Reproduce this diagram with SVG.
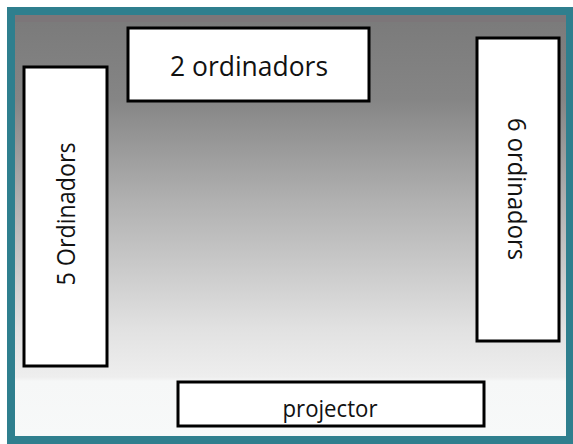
<svg xmlns="http://www.w3.org/2000/svg" width="573" height="444" viewBox="0 0 573 444">
<style>
.box{fill:#ffffff;stroke:#000000;stroke-width:3}
.lbl{font-family:"Open Sans","Noto Sans","DejaVu Sans",sans-serif;fill:#111111;text-anchor:middle}
</style>
<defs>
<linearGradient id="bg" x1="0" y1="0" x2="0" y2="1">
<stop offset="0" stop-color="#7a7a7a"/>
<stop offset="0.2" stop-color="#858585"/>
<stop offset="0.45" stop-color="#b2b2b2"/>
<stop offset="0.75" stop-color="#e2e2e2"/>
<stop offset="0.86" stop-color="#eeeeee"/>
<stop offset="0.87" stop-color="#f6f7f7"/>
<stop offset="1" stop-color="#f7f9f9"/>
</linearGradient>
</defs>
<rect x="0" y="0" width="573" height="444" fill="#ffffff"/>
<rect x="7" y="7" width="566" height="437" fill="#2f7f8e"/>
<rect x="15" y="15" width="551" height="421" fill="url(#bg)"/>
<rect x="15" y="15" width="551" height="7" fill="#7d7579" opacity="0.8"/>
<g id="node-2-ordinadors">
<rect class="box" x="128" y="28" width="241" height="73"/>
<text class="lbl" x="249" y="76" font-size="27" textLength="158" lengthAdjust="spacingAndGlyphs">2 ordinadors</text>
</g>
<g id="node-5-ordinadors">
<rect class="box" x="24" y="67" width="83" height="299"/>
<text class="lbl" transform="translate(75,214) rotate(-90)" x="0" y="0" font-size="25" textLength="143" lengthAdjust="spacingAndGlyphs">5 Ordinadors</text>
</g>
<g id="node-6-ordinadors">
<rect class="box" x="477" y="38" width="82" height="303"/>
<text class="lbl" transform="translate(508,189) rotate(90)" x="0" y="0" font-size="25" textLength="142" lengthAdjust="spacingAndGlyphs">6 ordinadors</text>
</g>
<g id="node-projector">
<rect class="box" x="178" y="382" width="306" height="44"/>
<text class="lbl" x="330" y="417" font-size="24" textLength="95" lengthAdjust="spacingAndGlyphs">projector</text>
</g>
<g id="connectors"/>
</svg>
